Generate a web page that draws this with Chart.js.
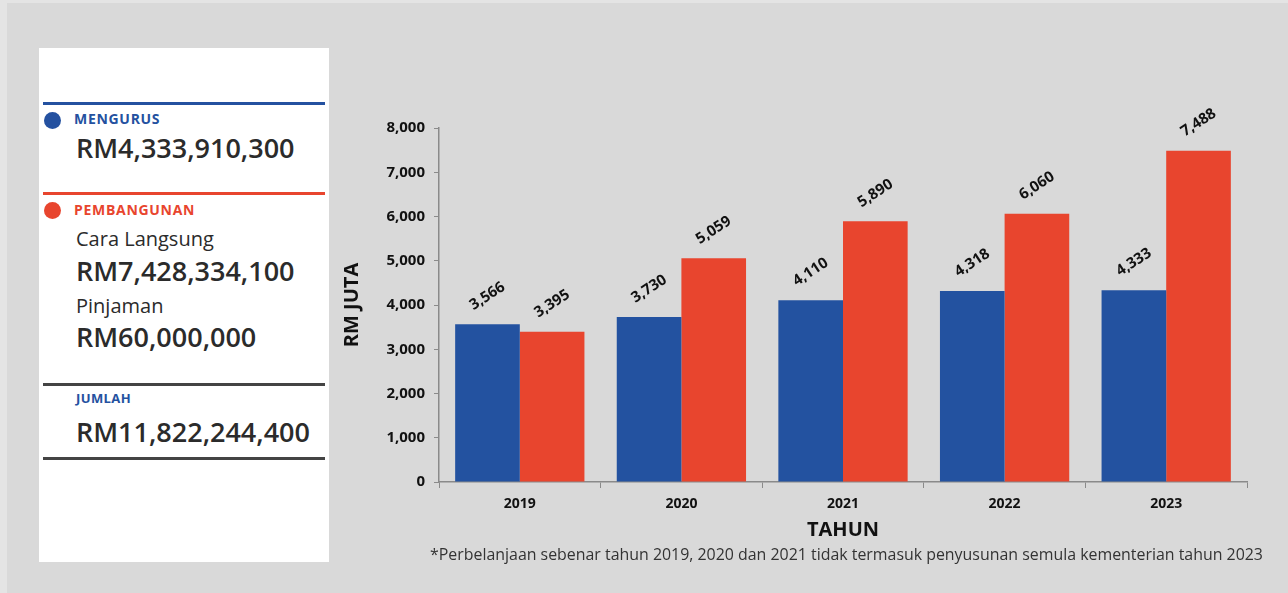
<!DOCTYPE html>
<html>
<head>
<meta charset="utf-8">
<script src="https://cdn.jsdelivr.net/npm/chart.js@4.4.1/dist/chart.umd.min.js"></script>
<style>
  html, body { margin: 0; padding: 0; }
  body { width: 1288px; height: 593px; background: #e4e4e4; position: relative; overflow: hidden; font-family: "Open Sans", sans-serif; }
  #bg { position: absolute; left: 7px; top: 3px; right: 0; bottom: 0; background: #d9d9d9; }
  #panel { position: absolute; left: 39px; top: 48px; width: 290px; height: 514px; background: #fff; }
  .rule { position: absolute; left: 43px; width: 282px; height: 3px; }
  .dot { position: absolute; width: 17px; height: 17px; border-radius: 50%; }
  .t { position: absolute; line-height: 1; white-space: nowrap; }
  .head { font-size: 14px; font-weight: 700; letter-spacing: 0.7px; }
  .amt { font-size: 27px; font-weight: 600; color: #2b2b2b; }
  .sub { font-size: 20px; font-weight: 500; color: #2b2b2b; }
  #wrap { position: absolute; left: 330px; top: 100px; width: 940px; height: 445px; }
  #note { position: absolute; left: 430px; top: 546px; font-size: 16px; color: #333; line-height: 1; white-space: nowrap; transform-origin: 0 0; }
</style>
</head>
<body>
<div id="bg"></div>
<div id="panel"></div>

<div class="rule" style="top:102px;background:#2451a0"></div>
<div class="dot" style="left:44px;top:112px;background:#2451a0"></div>
<div class="t head" style="left:74px;top:112px;color:#2451a0">MENGURUS</div>
<div class="t amt" style="left:76px;top:134px">RM4,333,910,300</div>

<div class="rule" style="top:192px;background:#e8452e"></div>
<div class="dot" style="left:44px;top:202px;background:#e8452e"></div>
<div class="t head" style="left:74px;top:203px;color:#e8452e">PEMBANGUNAN</div>
<div class="t sub" style="left:76px;top:229px">Cara Langsung</div>
<div class="t amt" style="left:76px;top:257px">RM7,428,334,100</div>
<div class="t sub" style="left:76px;top:296px">Pinjaman</div>
<div class="t amt" style="left:76px;top:323px">RM60,000,000</div>

<div class="rule" style="top:383px;background:#444"></div>
<div class="t head" style="left:76px;top:392px;font-size:13px;letter-spacing:0.4px;color:#2451a0">JUMLAH</div>
<div class="t amt" style="left:76px;top:418px">RM11,822,244,400</div>
<div class="rule" style="top:457px;background:#444"></div>

<div id="wrap"><canvas id="expChart" width="940" height="445"></canvas></div>
<div id="note">*Perbelanjaan sebenar tahun 2019, 2020 dan 2021 tidak termasuk penyusunan semula kementerian tahun 2023</div>

<script>
const years = ['2019', '2020', '2021', '2022', '2023'];
const mengurus = [3566, 3730, 4110, 4318, 4333];
const pembangunan = [3395, 5059, 5890, 6060, 7488];
const yTicks = [0, 1000, 2000, 3000, 4000, 5000, 6000, 7000, 8000];

const blue = '#2352a0';
const red = '#e8452e';
const axisGrey = '#8a8a8a';

// squeeze the footnote to the reference width
const note = document.getElementById('note');
note.style.transform = 'scaleX(' + (833 / note.offsetWidth) + ')';

// bar value labels, rotated like the original
const barLabels = {
    id: 'barLabels',
    afterDatasetsDraw(chart) {
        const ctx = chart.ctx;
        ctx.save();
        ctx.font = 'bold 15px "Open Sans"';
        ctx.fillStyle = '#111';
        ctx.textAlign = 'center';
        ctx.textBaseline = 'middle';
        chart.data.datasets.forEach((ds, i) => {
            chart.getDatasetMeta(i).data.forEach((bar, j) => {
                ctx.save();
                ctx.translate(bar.x, bar.y - 28);
                ctx.rotate(-33 * Math.PI / 180);
                ctx.fillText(ds.data[j].toLocaleString('en-US'), 0, 0);
                ctx.restore();
            });
        });
        ctx.restore();
    }
};

const ctx = document.getElementById('expChart').getContext('2d');
const expChart = new Chart(ctx, {
    type: 'bar',
    data: {
        labels: years,
        datasets: [
            { label: 'Mengurus', data: mengurus, backgroundColor: blue },
            { label: 'Pembangunan', data: pembangunan, backgroundColor: red }
        ]
    },
    options: {
        responsive: false,
        animation: false,
        layout: { padding: { top: 28, right: 23, left: 0, bottom: 0 } },
        datasets: { bar: { categoryPercentage: 0.8, barPercentage: 1.0 } },
        plugins: {
            legend: { display: false },
            tooltip: { enabled: false }
        },
        scales: {
            x: {
                grid: { display: true, drawOnChartArea: false, drawTicks: true, tickLength: 6, color: axisGrey, offset: true },
                border: { color: axisGrey, width: 1.5 },
                ticks: { color: '#111', font: { family: 'Open Sans', size: 14, weight: 'bold' }, padding: 8 },
                title: { display: true, text: 'TAHUN', color: '#111', font: { family: 'Open Sans', size: 20, weight: 'bold' }, padding: { top: 0, bottom: 3 } },
                afterFit(scale) { scale.height = 63; }
            },
            y: {
                min: 0,
                max: 8000,
                afterBuildTicks(scale) { scale.ticks = yTicks.map(v => ({ value: v })); },
                grid: { display: true, drawOnChartArea: false, drawTicks: true, tickLength: 5, color: axisGrey },
                border: { color: axisGrey, width: 1.5 },
                ticks: {
                    color: '#111',
                    font: { family: 'Open Sans', size: 15, weight: 'bold' },
                    padding: 9,
                    callback: v => v.toLocaleString('en-US')
                },
                title: { display: true, text: 'RM JUTA', color: '#111', font: { family: 'Open Sans', size: 20, weight: 'bold' }, padding: { top: 10, bottom: 0 } },
                afterFit(scale) { scale.width = 109; }
            }
        }
    },
    plugins: [barLabels]
});
</script>
</body>
</html>
